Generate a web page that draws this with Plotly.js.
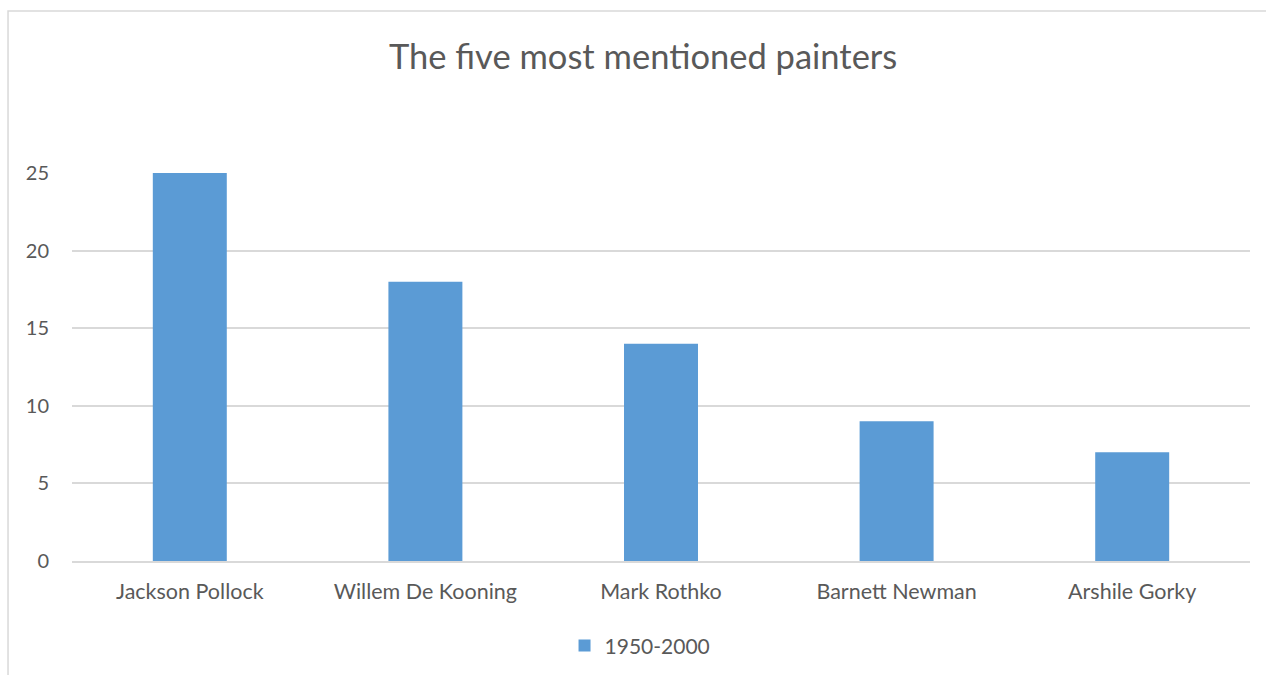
<!DOCTYPE html>
<html>
<head>
<meta charset="utf-8">
<script src="https://cdn.plot.ly/plotly-3.0.1.min.js"></script>
<style>
html,body{margin:0;padding:0;background:#fff;}
#chart{width:1266px;height:675px;}
</style>
</head>
<body>
<div id="chart"></div>
<script>
const painters = ["Jackson Pollock", "Willem De Kooning", "Mark Rothko", "Barnett Newman", "Arshile Gorky"];
const mentions = [25, 18, 14, 9, 7];
const seriesName = "1950-2000";
const yTicks = [0, 5, 10, 15, 20, 25];

const FONT = "Lato, Open Sans, sans-serif";
const TXT = "#595959";

const data = [{
  type: "bar",
  x: painters,
  y: mentions,
  name: seriesName,
  marker: {color: "#5b9bd5"},
  width: 0.314,
  hoverinfo: "x+y"
}];

const layout = {
  width: 1266,
  height: 675,
  margin: {l: 72, r: 16, t: 173, b: 114, autoexpand: false},
  paper_bgcolor: "#ffffff",
  plot_bgcolor: "#ffffff",
  font: {family: FONT, color: TXT, size: 20},
  title: {
    text: "The five most mentioned painters",
    font: {family: FONT, size: 34.5, color: TXT},
    x: 0.508, xanchor: "center",
    y: 0.915, yanchor: "middle"
  },
  showlegend: true,
  legend: {
    orientation: "h",
    x: 0.4822, xanchor: "center",
    y: -0.219, yanchor: "middle",
    font: {family: FONT, size: 21, color: TXT},
    itemwidth: 30
  },
  xaxis: {
    type: "category",
    automargin: false,
    showgrid: false,
    showline: true,
    linecolor: "#d9d9d9",
    linewidth: 1.5,
    ticks: "",
    ticklabelstandoff: 10,
    tickfont: {family: FONT, size: 21.5, color: TXT},
    zeroline: false
  },
  yaxis: {
    range: [0, 25],
    automargin: false,
    tickvals: yTicks,
    ticktext: yTicks.map(String),
    showgrid: true,
    gridcolor: "#d9d9d9",
    gridwidth: 1.5,
    zeroline: false,
    showline: false,
    ticks: "",
    ticklabelstandoff: 22,
    tickfont: {family: FONT, size: 20, color: TXT}
  },
  shapes: [{
    type: "rect",
    xref: "paper", yref: "paper",
    x0: -0.0543, x1: 1.05,
    y0: -0.35, y1: 1.4175,
    line: {color: "#d9d9d9", width: 1.5},
    fillcolor: "rgba(0,0,0,0)",
    layer: "below"
  }]
};

Plotly.newPlot("chart", data, layout, {displayModeBar: false});
</script>
</body>
</html>
